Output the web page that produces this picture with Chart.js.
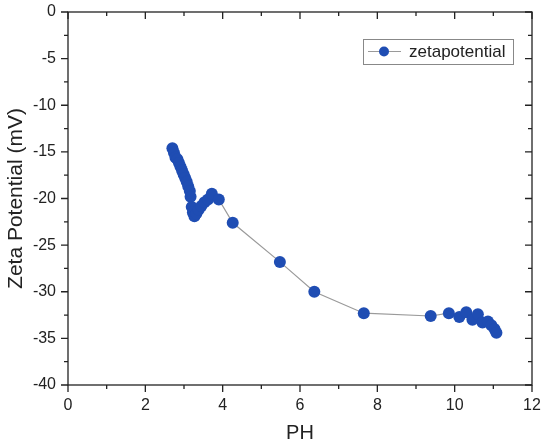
<!DOCTYPE html>
<html>
<head>
<meta charset="utf-8">
<script src="https://cdn.jsdelivr.net/npm/chart.js@4"></script>
<style>
  html, body { margin: 0; padding: 0; background: #fff; }
  #wrap { width: 541px; height: 445px; }
</style>
</head>
<body>
<div id="wrap"><canvas id="chart-zeta"></canvas></div>
<script>
// data
const phValues = [2.70, 2.74, 2.78, 2.83, 2.87, 2.91, 2.95, 2.99, 3.03, 3.07, 3.11, 3.15, 3.17,
    3.20, 3.23, 3.27, 3.32, 3.38, 3.45, 3.53, 3.62, 3.72, 3.90, 4.26, 5.48, 6.37, 7.65,
    9.38, 9.85, 10.12, 10.30, 10.46, 10.60, 10.72, 10.86, 10.95, 11.03, 11.08];
const zetaValues = [-14.6, -15.1, -15.6, -15.8, -16.2, -16.6, -17.0, -17.4, -17.8, -18.2, -18.7, -19.2, -19.8,
    -20.9, -21.5, -21.9, -21.6, -21.2, -20.8, -20.4, -20.1, -19.5, -20.1, -22.6, -26.8, -30.0, -32.3,
    -32.6, -32.3, -32.7, -32.2, -33.0, -32.4, -33.3, -33.2, -33.6, -34.0, -34.4];
const xTicks = [0, 2, 4, 6, 8, 10, 12];
const yTicks = [0, -5, -10, -15, -20, -25, -30, -35, -40];
const seriesName = 'zetapotential';

const dotColor = '#1f4db3';
const lineColor = '#9a9a9a';
const font = 'Arial, "Liberation Sans", sans-serif';

// frame with outward ticks on left/bottom, inward on top/right, plus minor ticks
const framePlugin = {
    id: 'frame',
    afterDraw(chart) {
        const ctx = chart.ctx, a = chart.chartArea;
        const xs = chart.scales.x, ys = chart.scales.y;
        ctx.save();
        ctx.strokeStyle = '#222';
        ctx.lineWidth = 1.3;
        ctx.strokeRect(a.left, a.top, a.right - a.left, a.bottom - a.top);
        ctx.beginPath();
        for (let v = 0; v <= 12; v += 1) {
            const px = xs.getPixelForValue(v);
            const len = v % 2 === 0 ? 7 : 4;
            ctx.moveTo(px, a.bottom); ctx.lineTo(px, a.bottom + len);
            ctx.moveTo(px, a.top); ctx.lineTo(px, a.top + len);
        }
        for (let v = 0; v >= -40; v -= 2.5) {
            const py = ys.getPixelForValue(v);
            const len = v % 5 === 0 ? 7 : 4;
            ctx.moveTo(a.left, py); ctx.lineTo(a.left - len, py);
            ctx.moveTo(a.right, py); ctx.lineTo(a.right - len, py);
        }
        ctx.stroke();
        ctx.restore();
    }
};

const legendPlugin = {
    id: 'boxLegend',
    afterDraw(chart) {
        const ctx = chart.ctx, a = chart.chartArea;
        const right = a.right - 19, top = a.top + 27, w = 150, h = 25;
        const left = right - w, mid = top + h / 2;
        ctx.save();
        ctx.fillStyle = '#fff';
        ctx.fillRect(left, top, w, h);
        ctx.strokeStyle = '#888';
        ctx.lineWidth = 1;
        ctx.strokeRect(left + 0.5, top + 0.5, w, h);
        ctx.strokeStyle = lineColor;
        ctx.lineWidth = 1.2;
        ctx.beginPath();
        ctx.moveTo(left + 5, mid); ctx.lineTo(left + 38, mid);
        ctx.stroke();
        ctx.fillStyle = dotColor;
        ctx.beginPath();
        ctx.arc(left + 21, mid, 5, 0, Math.PI * 2);
        ctx.fill();
        ctx.fillStyle = '#222';
        ctx.font = '17px ' + font;
        ctx.textBaseline = 'middle';
        ctx.fillText(seriesName, left + 46, mid + 1);
        ctx.restore();
    }
};

new Chart(document.getElementById('chart-zeta'), {
    type: 'line',
    data: {
        datasets: [{
            label: seriesName,
            data: phValues.map((x, i) => ({ x: x, y: zetaValues[i] })),
            borderColor: lineColor,
            borderWidth: 1.2,
            backgroundColor: dotColor,
            pointBackgroundColor: dotColor,
            pointBorderColor: dotColor,
            pointBorderWidth: 0,
            pointRadius: 6,
            tension: 0
        }]
    },
    options: {
        responsive: true,
        maintainAspectRatio: false,
        animation: false,
        layout: { padding: { top: 12, right: 9, left: 0, bottom: 0 } },
        plugins: { legend: { display: false }, tooltip: { enabled: false } },
        scales: {
            x: {
                type: 'linear',
                min: 0, max: 12,
                afterBuildTicks: s => { s.ticks = xTicks.map(v => ({ value: v })); },
                afterFit: s => { s.height = 60; s.paddingLeft = 0; s.paddingRight = 0; },
                grid: { display: false, drawTicks: false },
                border: { display: false },
                ticks: { color: '#222', font: { size: 16, family: font }, padding: 11 },
                title: { display: true, text: 'PH', color: '#222', font: { size: 20, family: font }, padding: { top: 4, bottom: 0 } }
            },
            y: {
                type: 'linear',
                min: -40, max: 0,
                afterBuildTicks: s => { s.ticks = yTicks.map(v => ({ value: v })); },
                afterFit: s => { s.width = 68; s.paddingTop = 0; s.paddingBottom = 0; },
                grid: { display: false, drawTicks: false },
                border: { display: false },
                ticks: { color: '#222', font: { size: 16, family: font }, padding: 12 },
                title: { display: true, text: 'Zeta Potential (mV)', color: '#222', font: { size: 21, family: font }, padding: { top: 4, bottom: 0 } }
            }
        }
    },
    plugins: [framePlugin, legendPlugin]
});
</script>
</body>
</html>
